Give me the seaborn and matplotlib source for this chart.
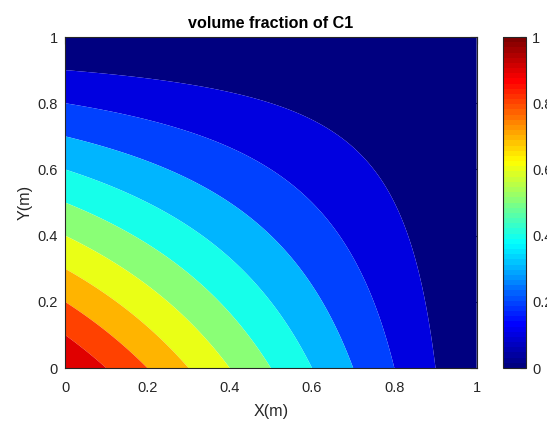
import numpy as np
import matplotlib
matplotlib.use("Agg")
import matplotlib.pyplot as plt
from matplotlib.colors import LinearSegmentedColormap, ListedColormap, Normalize
from matplotlib.cm import ScalarMappable
import seaborn as sns

# Volume fraction of C1 along the bottom wall (y = 0) and the left wall (x = 0)
x_edge = [0.0, 0.1, 0.2, 0.3, 0.4, 0.5, 0.6, 0.7, 0.8, 0.9, 1.0]
c_bottom = [1.0, 0.9, 0.8, 0.7, 0.6, 0.5, 0.4, 0.3, 0.2, 0.1, 0.0]
y_edge = [0.0, 0.1, 0.2, 0.3, 0.4, 0.5, 0.6, 0.7, 0.8, 0.9, 1.0]
c_left = [1.0, 0.9, 0.8, 0.7, 0.6, 0.5, 0.4, 0.3, 0.2, 0.1, 0.0]

# Contour levels and tick labels
levels = [0.0, 0.1, 0.2, 0.3, 0.4, 0.5, 0.6, 0.7, 0.8, 0.9, 1.0]
x_ticks = [0, 0.2, 0.4, 0.6, 0.8, 1]
x_tick_labels = ["0", "0.2", "0.4", "0.6", "0.8", "1"]
y_ticks = [0, 0.2, 0.4, 0.6, 0.8, 1]
y_tick_labels = ["0", "0.2", "0.4", "0.6", "0.8", "1"]
cbar_ticks = [0, 0.2, 0.4, 0.6, 0.8, 1]
cbar_tick_labels = ["0", "0.2", "0.4", "0.6", "0.8", "1"]

title_text = "volume fraction of C1"
x_label = "X(m)"
y_label = "Y(m)"

sns.set_theme(style="white")
plt.rcParams["font.family"] = ["Liberation Sans", "DejaVu Sans"]

ink = "#262626"

# Classic 64-entry jet colour table
jet_segments = {
    "red": [(0.0, 0.0, 0.0), (0.375, 0.0, 0.0), (0.625, 1.0, 1.0),
            (0.875, 1.0, 1.0), (1.0, 0.5, 0.5)],
    "green": [(0.0, 0.0, 0.0), (0.125, 0.0, 0.0), (0.375, 1.0, 1.0),
              (0.625, 1.0, 1.0), (0.875, 0.0, 0.0), (1.0, 0.0, 0.0)],
    "blue": [(0.0, 0.5, 0.5), (0.125, 1.0, 1.0), (0.375, 1.0, 1.0),
             (0.625, 0.0, 0.0), (1.0, 0.0, 0.0)],
}
jet_smooth = LinearSegmentedColormap("jet_classic", jet_segments, N=256)
jet64 = ListedColormap(jet_smooth(np.linspace(0, 1, 64)), name="jet64")

# Each filled band takes the colour of its lower level
band_colors = [jet64(lv) for lv in levels[:-1]]

# Separable field: product of the two wall profiles on a fine mesh
xs = np.linspace(0.0, 1.0, 401)
ys = np.linspace(0.0, 1.0, 401)
cx = np.interp(xs, x_edge, c_bottom)
cy = np.interp(ys, y_edge, c_left)
field = np.outer(cy, cx)

W, H = 547, 421
fig = plt.figure(figsize=(W / 100, H / 100), dpi=100)
fig.patch.set_facecolor("white")
ax = fig.add_axes([65 / W, 53 / H, 411.7 / W, 331 / H])
cax = fig.add_axes([502.5 / W, 53 / H, 23.5 / W, 331 / H])

ax.contourf(xs, ys, field, levels=levels, colors=band_colors, antialiased=True)

ax.set_xlim(0, 1)
ax.set_ylim(0, 1)
ax.set_xticks(x_ticks)
ax.set_xticklabels(x_tick_labels)
ax.set_yticks(y_ticks)
ax.set_yticklabels(y_tick_labels)
ax.tick_params(direction="in", length=5, width=0.8, top=True, right=True,
               labelsize=10.5, colors=ink)
ax.tick_params(axis="x", pad=9.5)
ax.tick_params(axis="y", pad=5)
for sp in ax.spines.values():
    sp.set_visible(True)
    sp.set_color(ink)
    sp.set_linewidth(0.8)

ax.set_xlabel(x_label, fontsize=11.6, color=ink)
ax.set_ylabel(y_label, fontsize=11.6, color=ink)
ax.xaxis.set_label_coords(0.5, (368 - 404) / 331)
ax.yaxis.set_label_coords((33 - 65) / 411.7, 0.5)

fig.text(270.8 / W, 1 - 28.5 / H, title_text, ha="center", va="baseline",
         fontsize=11.6, fontweight="bold", color="black")

# Colour bar
sm = ScalarMappable(norm=Normalize(vmin=0, vmax=1), cmap=jet64)
cb = fig.colorbar(sm, cax=cax, ticks=cbar_ticks)
cb.ax.set_yticklabels(cbar_tick_labels)
cb.ax.tick_params(direction="in", length=4, width=0.8, labelsize=10.5,
                  colors=ink, pad=4.5)
cb.outline.set_edgecolor(ink)
cb.outline.set_linewidth(0.8)

fig.savefig("out.png", dpi=100)
